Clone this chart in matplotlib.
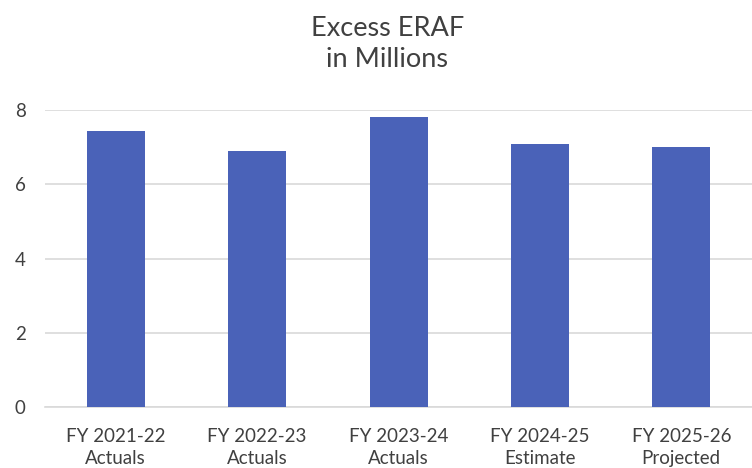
import matplotlib.pyplot as plt

years = ["FY 2021-22", "FY 2022-23", "FY 2023-24", "FY 2024-25", "FY 2025-26"]
kinds = ["Actuals", "Actuals", "Actuals", "Estimate", "Projected"]
values = [7.44, 6.90, 7.82, 7.09, 7.01]
yticks = [0, 2, 4, 6, 8]

plt.rcParams['font.family'] = ['Lato', 'DejaVu Sans']

fig = plt.figure(figsize=(7.52, 4.68), dpi=100)
ax = fig.add_axes([0.06, 0.13, 0.94, 0.635])

labels = [y + "\n" + k for y, k in zip(years, kinds)]
x = range(len(values))
ax.bar(x, values, width=0.41, color="#4a62b8", zorder=3)

ax.set_xlim(-0.5, len(values) - 0.5)
ax.set_ylim(0, 8)
ax.set_yticks(yticks)
ax.set_xticks(list(x))
ax.set_xticklabels(labels, fontsize=13.5, color="#404040", linespacing=1.35)
ax.tick_params(axis='y', labelsize=13.5, labelcolor="#404040", length=0, pad=14)
ax.tick_params(axis='x', length=0, pad=15)
ax.grid(axis='y', color="#d9d9d9", linewidth=1.2, zorder=0)
for s in ["top", "right", "left"]:
    ax.spines[s].set_visible(False)
ax.spines["bottom"].set_color("#d9d9d9")
ax.spines["bottom"].set_linewidth(1.2)

fig.suptitle("Excess ERAF\nin Millions", fontsize=19.5, color="#404040", y=0.966, x=0.515, linespacing=1.3)

fig.savefig("out.png", dpi=100)
